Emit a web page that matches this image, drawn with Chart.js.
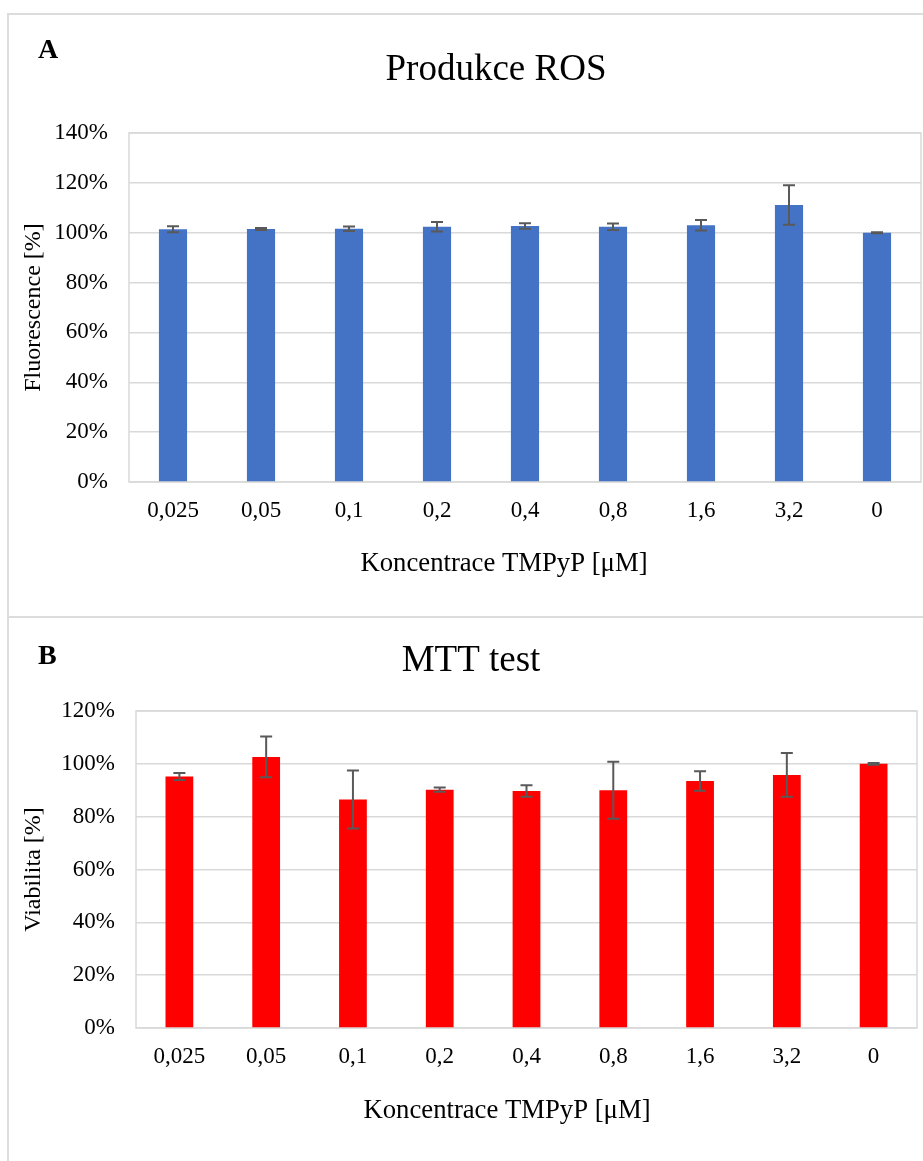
<!DOCTYPE html>
<html>
<head>
<meta charset="utf-8">
<script src="https://cdn.jsdelivr.net/npm/chart.js@4.4.0/dist/chart.umd.min.js"></script>
<style>
  html, body { margin: 0; padding: 0; background: #fff; }
  body { width: 923px; height: 1161px; position: relative; overflow: hidden; }
  .panel { position: absolute; left: 7px; width: 940px; border-left: 2px solid #dcdcdc; border-top: 2px solid #dcdcdc; }
  #panelA { top: 13px; height: 601px; }
  #panelB { top: 616px; height: 560px; }
  canvas { position: absolute; left: 0; top: 0; }
</style>
</head>
<body>
<div class="panel" id="panelA"><canvas id="chartA" width="914" height="601"></canvas></div>
<div class="panel" id="panelB"><canvas id="chartB" width="914" height="543"></canvas></div>
<script>
const categories = ['0,025', '0,05', '0,1', '0,2', '0,4', '0,8', '1,6', '3,2', '0'];

// Produkce ROS, fluorescence in %
const rosValues = [101.4, 101.5, 101.6, 102.4, 102.7, 102.4, 103.0, 111.1, 100.0];
const rosErrors = [1.2, 0.4, 0.9, 1.9, 1.1, 1.3, 2.1, 7.9, 0.2];

// MTT test, viability in %
const mttValues = [95.2, 102.6, 86.5, 90.2, 89.7, 90.0, 93.5, 95.8, 100.0];
const mttErrors = [1.3, 7.7, 11.0, 0.8, 2.2, 10.8, 3.7, 8.3, 0.3];

const SERIF = "'Liberation Serif', 'Times New Roman', serif";
const X_TITLE = 'Koncentrace TMPyP [μM]';

const errorBars = {
  id: 'errorBars',
  afterDatasetsDraw(chart, args, opts) {
    const { ctx, scales: { y } } = chart;
    const meta = chart.getDatasetMeta(0);
    const errs = opts.errors || [];
    ctx.save();
    ctx.strokeStyle = '#595959';
    ctx.lineWidth = 2;
    meta.data.forEach((bar, i) => {
      const v = chart.data.datasets[0].data[i];
      const e = errs[i] || 0;
      const top = y.getPixelForValue(v + e);
      const bot = y.getPixelForValue(v - e);
      ctx.beginPath();
      ctx.moveTo(bar.x, top); ctx.lineTo(bar.x, bot);
      ctx.moveTo(bar.x - 6, top); ctx.lineTo(bar.x + 6, top);
      ctx.moveTo(bar.x - 6, bot); ctx.lineTo(bar.x + 6, bot);
      ctx.stroke();
    });
    ctx.restore();
  }
};

// light frame round the plot area, heading texts and the x axis title
// (excel puts that title a bit left of the plot centre)
const panelDecor = {
  id: 'panelDecor',
  beforeDatasetsDraw(chart) {
    const { ctx, chartArea: a } = chart;
    ctx.save();
    ctx.strokeStyle = '#d9d9d9';
    ctx.lineWidth = 1.5;
    ctx.strokeRect(a.left, a.top, a.right - a.left, a.bottom - a.top);
    ctx.restore();
  },
  afterDraw(chart, args, opts) {
    const { ctx } = chart;
    ctx.save();
    ctx.fillStyle = '#000';
    ctx.textBaseline = 'middle';
    ctx.textAlign = 'center';
    ctx.font = '37px ' + SERIF;
    ctx.fillText(opts.title, opts.titleX, opts.titleY);
    ctx.font = '26.7px ' + SERIF;
    ctx.fillText(X_TITLE, opts.xTitleX, opts.xTitleY);
    ctx.textAlign = 'left';
    ctx.font = 'bold 28px ' + SERIF;
    ctx.fillText(opts.letter, opts.letterX, opts.letterY);
    ctx.restore();
  }
};

function makeChart(id, values, errors, color, yMax, yLabel, deco, pad, yWidth, xHeight) {
  return new Chart(document.getElementById(id), {
    type: 'bar',
    data: {
      labels: categories,
      datasets: [{
        data: values,
        backgroundColor: color,
        barPercentage: 0.32,
        categoryPercentage: 1
      }]
    },
    options: {
      responsive: false,
      animation: false,
      layout: { padding: pad },
      scales: {
        x: {
          grid: { display: false },
          border: { display: false },
          ticks: { color: '#000', font: { family: SERIF, size: 23 }, padding: 7, maxRotation: 0 },
          afterFit: s => { s.height = xHeight; }
        },
        y: {
          min: 0,
          max: yMax,
          grid: { color: '#d9d9d9', lineWidth: 1.5, drawTicks: false },
          border: { display: false },
          ticks: { stepSize: 20, color: '#000', font: { family: SERIF, size: 23 }, padding: 21, callback: v => v + '%' },
          title: { display: true, text: yLabel, color: '#000', font: { family: SERIF, size: 24 }, padding: { top: 10, bottom: 0 } },
          afterFit: s => { s.width = yWidth; }
        }
      },
      plugins: {
        legend: { display: false },
        tooltip: { enabled: false },
        errorBars: { errors: errors },
        panelDecor: deco
      }
    },
    plugins: [errorBars, panelDecor]
  });
}

makeChart('chartA', rosValues, rosErrors, '#4472C4', 140, 'Fluorescence [%]',
  { title: 'Produkce ROS', titleX: 487, titleY: 55, letter: 'A', letterX: 29, letterY: 36, xTitleX: 495, xTitleY: 549 },
  { top: 118, right: 2, left: 0, bottom: 0 }, 120, 134);

makeChart('chartB', mttValues, mttErrors, '#FF0000', 120, 'Viabilita [%]',
  { title: 'MTT test', titleX: 462, titleY: 43, letter: 'B', letterX: 29, letterY: 39, xTitleX: 498, xTitleY: 493 },
  { top: 93, right: 6, left: 0, bottom: 0 }, 127, 133);
</script>
</body>
</html>
